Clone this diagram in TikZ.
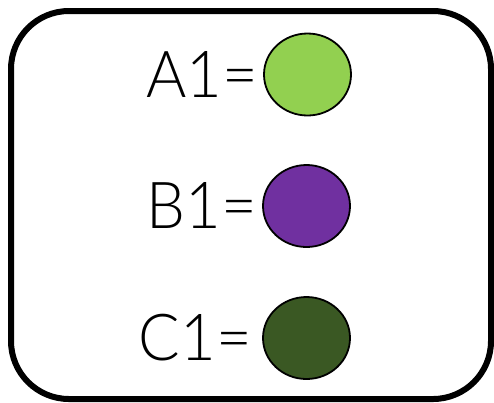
\documentclass[tikz,border=0pt]{standalone}
\usepackage{fontspec}
\setmainfont{Lato}[UprightFont=* Light,FakeStretch=0.95]
\usetikzlibrary{shapes.geometric}
\definecolor{cA}{HTML}{92D050}
\definecolor{cB}{HTML}{7030A0}
\definecolor{cC}{HTML}{3A5823}
\begin{document}
\begin{tikzpicture}[x=1bp,y=-1bp,
  dot/.style={ellipse,draw=black,line width=1.8bp,minimum width=87bp,minimum height=82bp,inner sep=0pt},
  lbl/.style={anchor=base east,inner sep=0pt,font=\fontsize{65}{65}\selectfont}]
\useasboundingbox (0,0) rectangle (494,402);
\draw[line width=6bp,rounded corners=58bp] (11,11) rectangle (491,399);
\node[dot,fill=cA] (a) at (307.5,74.5) {};
\node[dot,fill=cB] (b) at (306.5,206) {};
\node[dot,fill=cC] (c) at (306.5,338) {};
\node[lbl] (ta) at (258,97) {A1=};
\node[lbl] (tb) at (257,228) {B1=};
\node[lbl] (tc) at (252,360) {C1=};
\end{tikzpicture}
\end{document}
